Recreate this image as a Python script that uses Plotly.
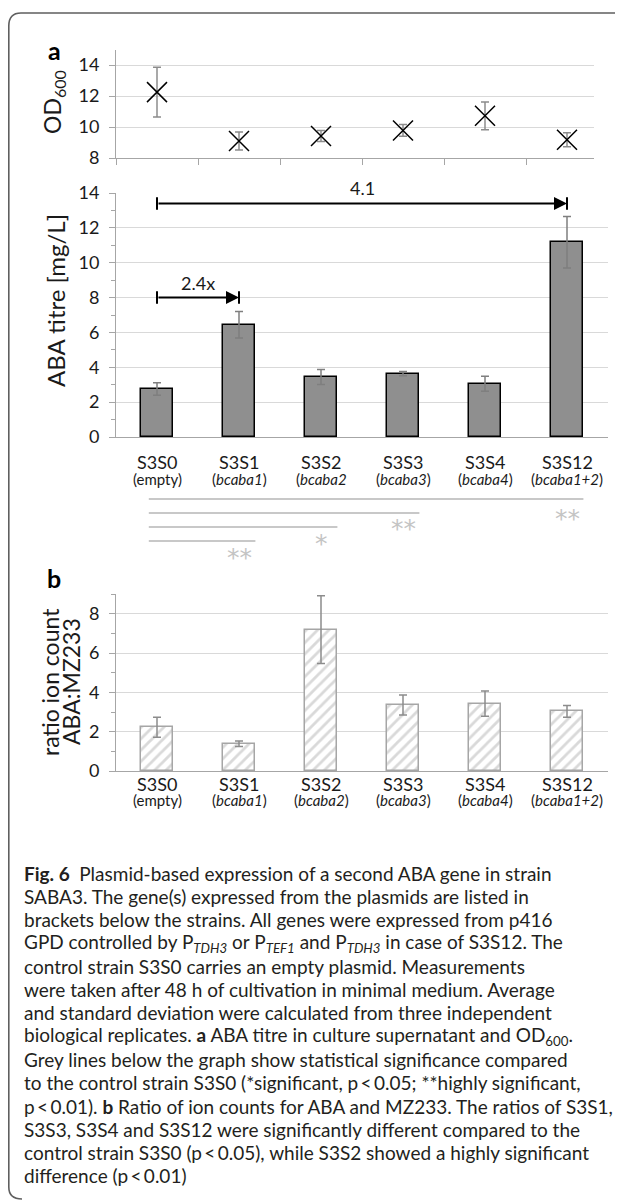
import plotly.graph_objects as go

# ---------------- data ----------------
categories = ["S3S0", "S3S1", "S3S2", "S3S3", "S3S4", "S3S12"]
genes_a = ["(empty)", "(<i>bcaba1</i>)", "(<i>bcaba2</i>", "(<i>bcaba3</i>)", "(<i>bcaba4</i>)", "(<i>bcaba1+2</i>)"]
genes_b = ["(empty)", "(<i>bcaba1</i>)", "(<i>bcaba2</i>)", "(<i>bcaba3</i>)", "(<i>bcaba4</i>)", "(<i>bcaba1+2</i>)"]

od600 = [12.25, 9.10, 9.42, 9.78, 10.72, 9.18]
od600_err = [1.60, 0.58, 0.35, 0.38, 0.90, 0.45]

aba_titre = [2.75, 6.44, 3.44, 3.64, 3.05, 11.17]
aba_titre_err = [0.36, 0.76, 0.43, 0.12, 0.43, 1.48]

ratio = [2.22, 1.38, 7.19, 3.36, 3.43, 3.03]
ratio_err = [0.51, 0.14, 1.72, 0.51, 0.64, 0.30]

# fold-change arrows: (from, to, label, y value)
fold_arrows = [("S3S0", "S3S1", "2.4x", 8.0), ("S3S0", "S3S12", "4.1", 13.4)]
# significance vs. control S3S0: (strain, stars)
significance = [("S3S12", "**"), ("S3S3", "**"), ("S3S2", "*"), ("S3S1", "**")]

caption_lines = [
    "<b>Fig. 6</b>\u2002Plasmid-based expression of a second ABA gene in strain",
    "SABA3. The gene(s) expressed from the plasmids are listed in",
    "brackets below the strains. All genes were expressed from p416",
    "GPD controlled by P<sub><i>TDH3</i></sub> or P<sub><i>TEF1</i></sub> and P<sub><i>TDH3</i></sub> in case of S3S12. The",
    "control strain S3S0 carries an empty plasmid. Measurements",
    "were taken after 48 h of cultivation in minimal medium. Average",
    "and standard deviation were calculated from three independent",
    "biological replicates. <b>a</b> ABA titre in culture supernatant and OD<sub>600</sub>.",
    "Grey lines below the graph show statistical significance compared",
    "to the control strain S3S0 (*significant, p\u2009&lt;\u20090.05; **highly significant,",
    "p\u2009&lt;\u20090.01). <b>b</b> Ratio of ion counts for ABA and MZ233. The ratios of S3S1,",
    "S3S3, S3S4 and S3S12 were significantly different compared to the",
    "control strain S3S0 (p\u2009&lt;\u20090.05), while S3S2 showed a highly significant",
    "difference (p\u2009&lt;\u20090.01)",
]

# ---------------- layout helpers ----------------
W, H = 623, 1200
OFF = 8  # page body margin: the figure starts 8px right / 8px down in the window
def fx(x): return (x - OFF) / W
def fy(y): return 1 - (y - OFF) / H

FONT = "Lato"
TXT = "#1a1a1a"
GRID = "#d9d9d9"
AXIS = "#a6a6a6"
X0, X1 = 116, 608
cat_w = (X1 - X0) / len(categories)
idx = list(range(len(categories)))
pos = {c: i for i, c in enumerate(categories)}

fig = go.Figure()

# OD600 markers
fig.add_trace(go.Scatter(
    x=idx, y=od600, mode="markers", xaxis="x", yaxis="y",
    marker=dict(symbol="x-thin", size=20, color="black", line=dict(color="black", width=1.5)),
    error_y=dict(type="data", array=od600_err, color="#8c8c8c", thickness=1.5, width=4),
    showlegend=False))

# ABA titre bars
fig.add_trace(go.Bar(
    x=idx, y=aba_titre, width=0.4, xaxis="x2", yaxis="y2",
    marker=dict(color="#8f8f8f", line=dict(color="black", width=1.5)),
    error_y=dict(type="data", array=aba_titre_err, color="#7f7f7f", thickness=1.5, width=4),
    showlegend=False))

# ratio bars (hatched)
fig.add_trace(go.Bar(
    x=idx, y=ratio, width=0.4, xaxis="x3", yaxis="y3",
    marker=dict(color="white", line=dict(color="#a6a6a6", width=1.5),
                pattern=dict(shape="/", fgcolor="#b3b3b3", bgcolor="white", size=8, solidity=0.35)),
    error_y=dict(type="data", array=ratio_err, color="#8c8c8c", thickness=1.5, width=4),
    showlegend=False))

tickfont = dict(family=FONT, size=18, color=TXT)
common_y = dict(showline=True, linecolor=AXIS, linewidth=1, ticks="outside", ticklen=6,
                tickcolor=AXIS, tickfont=tickfont, gridcolor=GRID, gridwidth=1,
                zeroline=False, automargin=False, fixedrange=True, ticklabelstandoff=6)

fig.update_layout(
    width=W, height=H, margin=dict(l=0, r=0, t=0, b=0, pad=0),
    paper_bgcolor="white", plot_bgcolor="white", bargap=0,
    font=dict(family=FONT, color=TXT),
    xaxis=dict(domain=[fx(X0), fx(594)], range=[-0.5, -0.5 + (594 - X0) / cat_w], anchor="y",
               showline=True, linecolor=AXIS, ticks="outside", ticklen=6, tickcolor=AXIS,
               tickvals=[i - 0.5 for i in idx], showticklabels=False, showgrid=False,
               zeroline=False, fixedrange=True),
    yaxis=dict(domain=[fy(158), fy(49.5)], range=[8, 15], tickvals=[8, 10, 12, 14],
               anchor="x", showgrid=True, **common_y),
    xaxis2=dict(domain=[fx(X0), fx(X1)], range=[-0.5, 5.5], anchor="y2", showline=True,
                linecolor=AXIS, showticklabels=False, ticks="", showgrid=False, zeroline=False,
                fixedrange=True),
    yaxis2=dict(domain=[fy(437), fy(193)], range=[0, 14], dtick=2, tick0=0, anchor="x2",
                showgrid=True, minor=dict(dtick=1, ticks="outside", ticklen=4, tickcolor=AXIS,
                                          showgrid=False), **common_y),
    xaxis3=dict(domain=[fx(X0), fx(X1)], range=[-0.5, 5.5], anchor="y3", showline=True,
                linecolor=AXIS, showticklabels=False, ticks="", showgrid=False, zeroline=False,
                fixedrange=True),
    yaxis3=dict(domain=[fy(771), fy(594)], range=[0, 9], dtick=2, tick0=0, anchor="x3",
                showgrid=True, minor=dict(dtick=1, ticks="outside", ticklen=4, tickcolor=AXIS,
                                          showgrid=False), **common_y),
)

ann = []
shapes = []

def text_at(xp, yp, text, size, color=TXT, angle=0, family=FONT):
    return dict(x=fx(xp), y=fy(yp), xref="paper", yref="paper", text=text, showarrow=False,
                xanchor="center", yanchor="middle", textangle=angle,
                font=dict(family=family, size=size, color=color))

# panel letters
ann.append(text_at(54, 50, "<b>a</b>", 25, "black"))
ann.append(text_at(54, 578, "<b>b</b>", 25, "black"))

# axis titles
ann.append(text_at(53, 102, "OD<sub>600</sub>", 23, angle=-90))
ann.append(text_at(55, 300, "ABA titre [mg/L]", 24, angle=-90))
ann.append(text_at(50, 682, "ratio ion count", 23, angle=-90))
ann.append(text_at(71, 682, "ABA:MZ233", 23, angle=-90))

# category labels
for i, c in enumerate(categories):
    for xr, y1, y2, genes in (("x2", 462, 479, genes_a), ("x3", 784, 800, genes_b)):
        ann.append(dict(x=i, xref=xr, y=fy(y1), yref="paper", text=c, showarrow=False,
                        xanchor="center", yanchor="middle",
                        font=dict(family=FONT, size=18, color=TXT)))
        ann.append(dict(x=i, xref=xr, y=fy(y2), yref="paper", text=genes[i], showarrow=False,
                        xanchor="center", yanchor="middle",
                        font=dict(family=FONT, size=15, color=TXT)))

# fold-change arrows
for a, b, lab, yv in fold_arrows:
    xa, xb = pos[a], pos[b]
    ann.append(dict(x=xb, y=yv, xref="x2", yref="y2", ax=xa, ay=yv, axref="x2", ayref="y2",
                    showarrow=True, arrowhead=2, arrowsize=1.3, arrowwidth=2, arrowcolor="black",
                    text="", standoff=0))
    for xe in (xa, xb):
        shapes.append(dict(type="line", xref="x2", yref="y2", x0=xe, x1=xe, y0=yv - 0.36,
                           y1=yv + 0.36, line=dict(color="black", width=2)))
    ann.append(dict(x=(xa + xb) / 2, y=yv, xref="x2", yref="y2", text=lab, showarrow=False,
                    xanchor="center", yanchor="middle", yshift=15,
                    font=dict(family=FONT, size=18, color=TXT)))

# significance lines
line_y = [499, 513, 527, 541]
star_y = [512, 523, 537, 552]
for k, (s, stars) in enumerate(significance):
    xs = pos[s]
    shapes.append(dict(type="line", xref="x2", yref="paper", x0=-0.1, x1=xs + 0.2,
                       y0=fy(line_y[k]), y1=fy(line_y[k]), line=dict(color="#c8c8c8", width=2)))
    ann.append(dict(x=xs, xref="x2", y=fy(star_y[k] + 6), yref="paper", text=stars,
                    showarrow=False, xanchor="center", yanchor="middle",
                    font=dict(family="DejaVu Sans", size=25, color="#c4c4c4")))

# caption
for k, line in enumerate(caption_lines):
    ann.append(dict(x=fx(22), y=fy(873 + 23.3 * k), xref="paper", yref="paper", xanchor="left",
                    yanchor="middle", text=line, showarrow=False, align="left",
                    font=dict(family=FONT, size=19, color="#231f20")))

# frame
path = (f"M {fx(22)} {fy(1199)} Q {fx(8.8)} {fy(1199)} {fx(8.8)} {fy(1187)} "
        f"L {fx(8.8)} {fy(26)} Q {fx(8.8)} {fy(13)} {fx(21)} {fy(13)} L {fx(631)} {fy(13)}")
shapes.append(dict(type="path", xref="paper", yref="paper", path=path,
                   line=dict(color="#5f5f5f", width=1.6)))

fig.update_layout(annotations=ann, shapes=shapes)
fig.write_html("out.html")
